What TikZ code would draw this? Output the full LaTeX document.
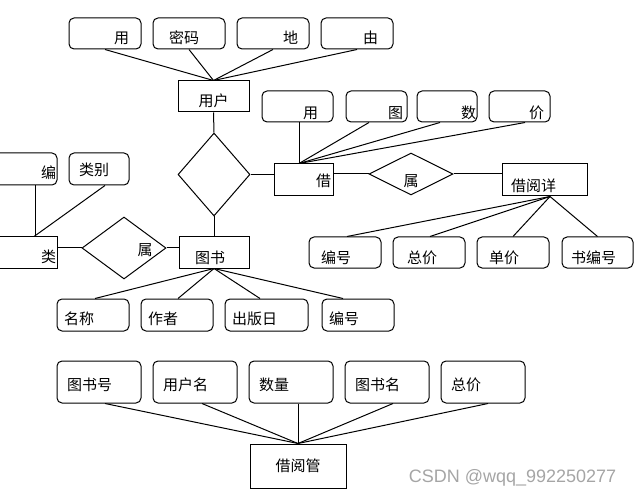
\documentclass[tikz,border=0pt]{standalone}
\usepackage{fontspec}
\usetikzlibrary{shapes.geometric}
\newfontfamily\cjk{Noto Sans CJK SC}
\newfontfamily\wmfont{Liberation Sans}
\definecolor{wmgray}{RGB}{165,165,165}
\tikzset{
  attr/.style={draw, rounded corners=5pt, inner ysep=0pt, minimum height=31pt},
  ent/.style={draw, inner ysep=0pt, minimum height=32pt},
  rel/.style={draw, diamond, inner sep=0pt},
  wm/.style 2 args={text width=#1-2*#2, inner xsep=#2},
  dy/.style={text height=#1, text depth=0pt}
}
\begin{document}
\begin{tikzpicture}[x=1pt, y=-1pt, line width=1pt,
  every node/.style={font=\cjk\fontsize{15}{18}\selectfont}]
\useasboundingbox (0,0) rectangle (634,494);
% user and its attributes
\node[attr, wm={72}{12}, align=right, dy=20.4pt](A1)at(105,33.5){用};
\node[attr, wm={72}{16}, align=left, dy=20.4pt](A2)at(189,33.5){密码};
\node[attr, wm={72}{11}, align=right, dy=20.4pt](A3)at(273,33.5){地};
\node[attr, wm={72}{15}, align=right, dy=20.4pt](A4)at(357,33.5){由};
\node[ent, minimum width=71pt, minimum height=31pt, dy=20.4pt](yh)at(213.5,96.5){用户};
\foreach \a in {A1,A2,A3,A4}
  \draw(\a.south)--(yh.north);
\node[rel, minimum width=72pt, minimum height=83pt](d1)at(214,174.5){};
\draw(yh.south)--(d1.north);
% borrow record
\node[attr, wm={71}{15}, align=right, dy=24.4pt](B1)at(297.5,106.5){用};
\node[attr, wm={61}{4}, align=right, dy=24.4pt](B2)at(376.5,106.5){图};
\node[attr, wm={60}{1}, align=right, dy=24.4pt](B3)at(447,106.5){数};
\node[attr, wm={61}{6}, align=right, dy=24.4pt](B4)at(519.5,106.5){价};
\node[ent, wm={59}{2}, align=right, dy=12.4pt](jie)at(303.5,180){借};
\coordinate(jt)at([xshift=-4.5pt]jie.north);
\draw([xshift=1.5pt]B1.south)--(jt);
\draw([xshift=-7.5pt]B2.south)--(jt);
\draw([xshift=-7pt]B3.south)--(jt);
\draw([xshift=5.5pt]B4.south)--(jt);
\draw(d1.east)--(d1.east -| jie.west);
\node[rel, minimum width=84pt, minimum height=42pt,
  label={[yshift=-7pt]center:属}](d2)at(411,174){};
\node[ent, wm={85}{9}, align=left, dy=23.4pt](xq)at(544.5,180){借阅详};
\draw(jie.east |- d2.west)--(d2.west);
\draw(d2.east)--(d2.east -| xq.west);
\node[attr, wm={72}{12}, align=left, dy=21.4pt](C1)at(345,252.5){编号};
\node[attr, wm={72}{14}, align=left, dy=21.4pt](C2)at(429,252.5){总价};
\node[attr, wm={72}{12}, align=left, dy=21.4pt](C3)at(513,252.5){单价};
\node[attr, wm={71}{9}, align=left, dy=21.4pt](C4)at(597.5,252.5){书编号};
\coordinate(xb)at([xshift=5.5pt]xq.south);
\draw(xb)--([xshift=2pt]C1.north);
\draw(xb)--([xshift=1pt]C2.north);
\draw(xb)--(C3.north);
\draw(xb)--(C4.north);
% category
\node[attr, minimum height=32pt, wm={72}{1}, align=right, dy=18.4pt](D1)at(21,169){编};
\node[attr, minimum height=32pt, wm={60}{10}, align=left, dy=13.4pt](D2)at(99,169){类别};
\node[ent, minimum height=31pt, wm={72}{1}, align=right, dy=19.4pt](lei)at(21,252.5){类};
\draw([xshift=14pt]D1.south)--([xshift=14pt]lei.north);
\draw([xshift=6pt]D2.south)--([xshift=13pt]lei.north);
\node[rel, minimum width=84pt, minimum height=62pt,
  label={[xshift=21pt, yshift=-2pt]center:属}](d3)at(124,248){};
% book
\node[ent, minimum height=31pt, wm={70}{16}, align=left, dy=21.4pt](ts)at(214,252.5){图书};
\draw(d3.west -| lei.east)--(d3.west);
\draw(d3.east)--(d3.east -| ts.west);
\draw(d1.south)--(ts.north);
\node[attr, minimum height=32pt, wm={72}{7}, align=left, dy=18.4pt](E1)at(93,315){名称};
\node[attr, minimum height=32pt, wm={72}{7}, align=left, dy=18.4pt](E2)at(177,315){作者};
\node[attr, minimum height=32pt, wm={83}{7}, align=left, dy=18.4pt](E3)at(266.5,315){出版日};
\node[attr, minimum height=32pt, wm={72}{7}, align=left, dy=18.4pt](E4)at(358,315){编号};
\draw(ts.south)--([xshift=2pt]E1.north);
\draw(ts.south)--([xshift=1pt]E2.north);
\draw(ts.south)--([xshift=-6.5pt]E3.north);
\draw(ts.south)--([xshift=-15pt]E4.north);
% borrow management
\node[attr, minimum height=42pt, wm={84}{10}, align=left, dy=16.4pt](F1)at(99,382){图书号};
\node[attr, minimum height=42pt, wm={84}{10}, align=left, dy=16.4pt](F2)at(195,382){用户名};
\node[attr, minimum height=42pt, wm={84}{10}, align=left, dy=16.4pt](F3)at(291,382){数量};
\node[attr, minimum height=42pt, wm={84}{10}, align=left, dy=16.4pt](F4)at(387,382){图书名};
\node[attr, minimum height=42pt, wm={84}{10}, align=left, dy=16.4pt](F5)at(483,382){总价};
\node[ent, minimum width=96pt, minimum height=44pt](gl)at(298,466){借阅管};
\draw([xshift=6pt]F1.south)--(gl.north);
\draw([xshift=7pt]F2.south)--(gl.north);
\draw([xshift=7pt]F3.south)--(gl.north);
\draw([xshift=6pt]F4.south)--(gl.north);
\draw([xshift=5pt]F5.south)--(gl.north);
\node[font=\wmfont\fontsize{18}{20}\selectfont, text=wmgray, anchor=base, inner sep=0pt](csdn)at(512.5,482){CSDN @wqq\_992250277};
\end{tikzpicture}
\end{document}
